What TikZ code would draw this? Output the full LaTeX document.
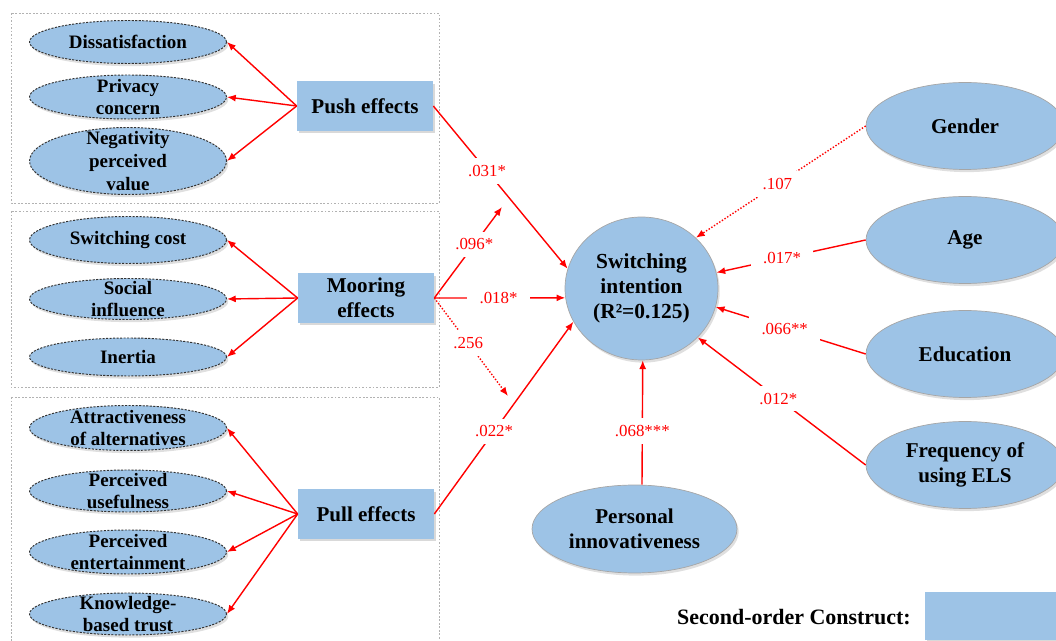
\documentclass[tikz,border=0pt]{standalone}
\usepackage{fontspec}
\setmainfont{Liberation Serif}
\usetikzlibrary{shapes.geometric,arrows.meta,shadows}
\definecolor{cblue}{RGB}{157,195,230}

\begin{document}
\begin{tikzpicture}[x=0.02cm,y=-0.02cm,
    grpbox/.style={draw=gray!60, dash pattern=on 1pt off 1pt, line width=0.4pt},
    firstord/.style={ellipse, fill=cblue, draw=black!80, dash pattern=on 1.2pt off 0.8pt,
      line width=0.55pt, inner sep=0pt, minimum width=3.94cm,
      drop shadow={opacity=0.25, shadow xshift=1pt, shadow yshift=-1.5pt}},
    bigell/.style={ellipse, fill=cblue, draw=gray!70, line width=0.4pt, inner sep=0pt,
      drop shadow={opacity=0.25, shadow xshift=1pt, shadow yshift=-1.5pt}},
    sobox/.style={rectangle, fill=cblue, inner sep=0pt, minimum width=2.72cm, minimum height=0.99cm,
      drop shadow={opacity=0.3, shadow xshift=1.2pt, shadow yshift=-1.5pt}},
    ftext/.style={font=\fontsize{10.8}{13}\selectfont\bfseries, align=center},
    btext/.style={font=\fontsize{12}{14.2}\selectfont\bfseries, align=center},
    arr/.style={draw=red, line width=0.8pt, -{Latex[length=5pt,width=4pt]}},
    lbl/.style={font=\fontsize{9.6}{11}\selectfont, text=red, fill=white, inner xsep=7pt, inner ysep=4pt}]

    \useasboundingbox (0,0) rectangle (1056,641);

    % group frames
    \draw[grpbox] (11,13) rectangle (439,203);
    \draw[grpbox] (11,211) rectangle (439,387);
    \draw[grpbox] (11,397) rectangle (439,650);

    % second-order constructs
    \node[sobox, btext] (push) at (365,106) {Push effects};
    \node[sobox, btext] (moor) at (366,298) {Mooring\\effects};
    \node[sobox, btext] (pull) at (366,514) {Pull effects};

    % first-order constructs
    \foreach \n/\y/\h/\t in {dis/42/43/Dissatisfaction,
        pri/97/44/{Privacy\\concern},
        neg/161/67/{Negativity\\perceived\\value}} {
      \node[firstord, minimum height=\h*0.02cm] (\n) at (128,\y) {};
      \node[ftext] (\n-t) at (\n) {\t};
      \draw[arr] (push.west) -- (\n.east);
    }
    \foreach \n/\y/\h/\t in {cost/240/47/Switching cost,
        soc/299/41/{Social\\influence},
        ine/357/38/Inertia} {
      \node[firstord, minimum height=\h*0.02cm] (\n) at (128,\y) {};
      \node[ftext] (\n-t) at (\n) {\t};
      \draw[arr] (moor.west) -- (\n.east);
    }
    \foreach \n/\y/\h/\t in {att/428/45/{Attractiveness\\of alternatives},
        use/491/42/{Perceived\\usefulness},
        ent/552/44/{Perceived\\entertainment},
        kbt/614/42/{Knowledge-\\based trust}} {
      \node[firstord, minimum height=\h*0.02cm] (\n) at (128,\y) {};
      \node[ftext] (\n-t) at (\n) {\t};
      \draw[arr] (pull.west) -- (\n.east);
    }

    % outcome and controls
    \node[bigell, minimum width=3.06cm, minimum height=2.86cm] (sw) at (641.5,288.5) {};
    \node[btext, font=\fontsize{12.2}{14.2}\selectfont\bfseries] (sw-t) at (sw) {Switching\\intention\\(R²=0.125)};
    \foreach \n/\y/\t in {gen/126/Gender, age/240/Age, edu/354/Education,
        freq/465/{Frequency of\\using ELS}} {
      \node[bigell, minimum width=3.96cm, minimum height=1.74cm] (\n) at (965,\y) {};
      \node[btext] (\n-t) at (\n) {\t};
    }
    \node[bigell, minimum width=4.1cm, minimum height=1.76cm] (innov) at (634.5,529) {};
    \node[btext] (innov-t) at (innov) {Personal\\innovativeness};

    % paths
    \coordinate (m1) at (502,207);
    \coordinate (m2) at (508,396);
    \draw[arr] (push.east) -- node[lbl, pos=0.4] (l1) {.031*} (sw.165);
    \draw[arr] (moor.east) -- node[lbl, pos=0.59] (l2) {.096*} (m1);
    \draw[arr] (moor.east) -- node[lbl, pos=0.49] (l3) {.018*} (sw.187);
    \draw[arr, densely dotted] (moor.east) -- node[lbl, pos=0.46] (l4) {.256} (m2);
    \draw[arr] (pull.east) -- node[lbl, pos=0.43] (l5) {.022*} (sw.206);
    \draw[arr, densely dotted] (gen.west) -- node[lbl, pos=0.52] (l6) {.107} (sw.43);
    \draw[arr] (age.west) -- node[lbl, pos=0.56] (l7) {.017*} (sw.12);
    \draw[arr] (edu.west) -- node[lbl, pos=0.54] (l8) {.066**} (sw.-14);
    \draw[arr] (freq.west) -- node[lbl, pos=0.52] (l9) {.012*} (sw.-41);
    \draw[arr] ([xshift=0.15cm]innov.north) -- node[lbl, pos=0.43] (l10) {.068***} (sw.-89);

    % legend
    \node[btext, font=\fontsize{12.5}{14}\selectfont\bfseries] (legtxt) at (794,617) {Second-order Construct:};
    \node[sobox, anchor=north west, minimum width=3cm, minimum height=0.96cm] (legbox) at (925,592) {};

\end{tikzpicture}
\end{document}
